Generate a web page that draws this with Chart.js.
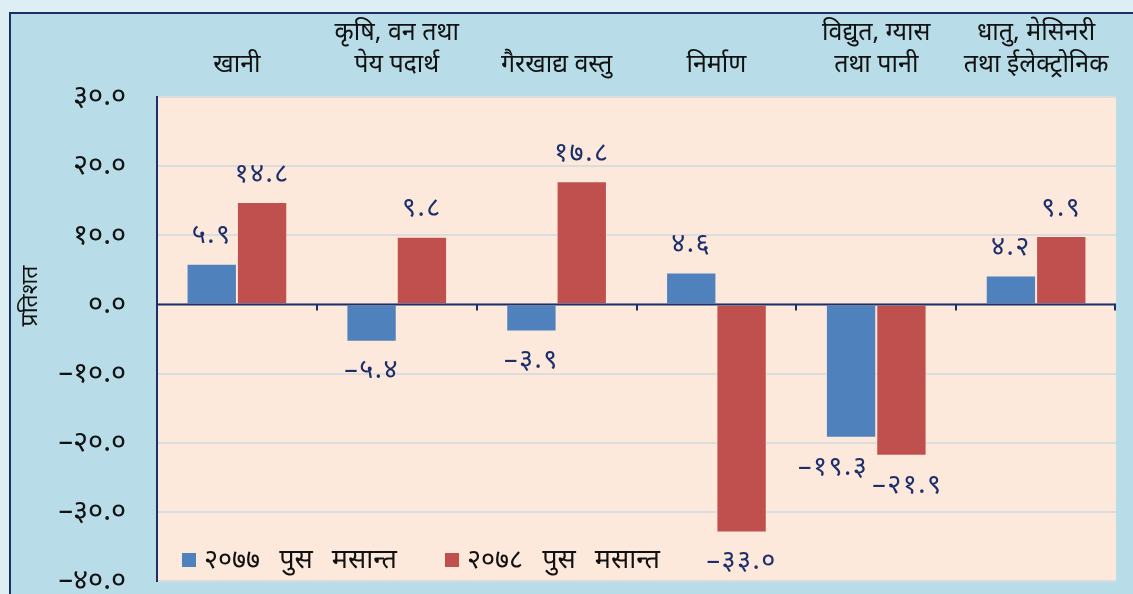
<!DOCTYPE html>
<html>
<head>
<meta charset="utf-8">
<script src="https://cdn.jsdelivr.net/npm/chart.js@4.4.1/dist/chart.umd.min.js"></script>
<style>
  html, body { margin: 0; padding: 0; background: #ddeef5; overflow: hidden; }
  #frame { position: absolute; left: 9px; top: 12px; width: 1200px; height: 700px;
           border: 2px solid #1c2f6b; background: #b8dde8; }
  #wrap { position: absolute; left: 0; top: 0; width: 1133px; height: 594px; }
</style>
</head>
<body>
<div id="frame"></div>
<div id="wrap"><canvas id="c" width="1133" height="594"></canvas></div>
<script>
const categories = [
  ['खानी'],
  ['कृषि, वन तथा', 'पेय पदार्थ'],
  ['गैरखाद्य वस्तु'],
  ['निर्माण'],
  ['विद्युत, ग्यास', 'तथा पानी'],
  ['धातु, मेसिनरी', 'तथा ईलेक्ट्रोनिक']
];
const seriesNames = ['२०७७ पुस मसान्त', '२०७८ पुस मसान्त'];
const series2077 = [5.9, -5.4, -3.9, 4.6, -19.3, 4.2];
const series2078 = [14.8, 9.8, 17.8, -33.0, -21.9, 9.9];
const labels2077 = ['५.९', '–५.४', '–३.९', '४.६', '–१९.३', '४.२'];
const labels2078 = ['१४.८', '९.८', '१७.८', '–३३.०', '–२१.९', '९.९'];
const yTickValues = [-40, -30, -20, -10, 0, 10, 20, 30];
const yTickLabels = ['–४०.०', '–३०.०', '–२०.०', '–१०.०', '०.०', '१०.०', '२०.०', '३०.०'];
const yTitle = 'प्रतिशत';

const FONT = "'Noto Sans', 'Noto Sans Devanagari', 'Lohit Devanagari', sans-serif";
const BLUE = '#4f81bd', RED = '#c0504d', NAVY = '#1c2f6b';
const valueLabels = [labels2077, labels2078];

const decor = {
  id: 'decor',
  beforeDraw(chart) {
    const {ctx, chartArea: a} = chart;
    ctx.save();
    ctx.fillStyle = '#fde9db';
    ctx.fillRect(a.left, a.top, a.right - a.left, a.bottom - a.top);
    ctx.restore();
  },
  afterDatasetsDraw(chart) {
    const {ctx, chartArea: a, scales: {x, y}} = chart;
    ctx.save();
    const y0 = y.getPixelForValue(0);
    ctx.strokeStyle = NAVY;
    ctx.lineWidth = 2;
    ctx.beginPath();
    ctx.moveTo(a.left, y0); ctx.lineTo(a.right, y0);
    const n = categories.length;
    const w = (a.right - a.left) / n;
    for (let i = 1; i <= n; i++) {
      const xx = Math.round(a.left + i * w) - (i === n ? 1 : 0);
      ctx.moveTo(xx, y0); ctx.lineTo(xx, y0 + 6);
    }
    ctx.stroke();
    // value labels (with simple collision nudging between paired labels)
    ctx.fillStyle = NAVY;
    ctx.font = '27px ' + FONT;
    try { ctx.letterSpacing = '1.5px'; } catch (e) {}
    ctx.textAlign = 'center';
    ctx.textBaseline = 'middle';
    const m0 = chart.getDatasetMeta(0), m1 = chart.getDatasetMeta(1);
    for (let i = 0; i < categories.length; i++) {
      const pos = [m0, m1].map((m, di) => {
        const v = chart.data.datasets[di].data[i];
        const bar = m.data[i];
        return { x: bar.x, y: v >= 0 ? bar.y - 28 : bar.y + 29, t: valueLabels[di][i] };
      });
      const w0 = ctx.measureText(pos[0].t).width, w1 = ctx.measureText(pos[1].t).width;
      const overlap = (pos[0].x + w0 / 2) - (pos[1].x - w1 / 2) + 4;
      if (overlap > 0 && Math.abs(pos[0].y - pos[1].y) < 30) {
        pos[0].x -= overlap * 0.75;
        pos[1].x += overlap * 0.25;
      }
      pos.forEach(p => ctx.fillText(p.t, p.x, p.y));
    }
    try { ctx.letterSpacing = '0px'; } catch (e) {}
    // legend
    ctx.font = '27px ' + FONT;
    try { ctx.wordSpacing = '12px'; } catch (e) {}
    ctx.textAlign = 'left';
    const ly = 560;
    const items = [[182, BLUE], [445, RED]];
    items.forEach(([lx, col], i) => {
      ctx.fillStyle = col;
      ctx.fillRect(lx, ly - 7, 14, 14);
      ctx.fillStyle = '#111';
      ctx.fillText(chart.data.datasets[i].label, lx + 22, ly);
    });
    try { ctx.wordSpacing = '0px'; } catch (e) {}
    // y title
    ctx.translate(30, 296);
    ctx.rotate(-Math.PI / 2);
    ctx.textAlign = 'center';
    ctx.font = '23px ' + FONT;
    ctx.fillStyle = '#111';
    ctx.fillText(yTitle, 0, 0);
    ctx.restore();
  }
};

new Chart(document.getElementById('c'), {
  type: 'bar',
  data: {
    labels: categories,
    datasets: [
      { label: seriesNames[0], data: series2077, backgroundColor: BLUE,
        borderColor: 'rgba(255,235,225,0.6)', borderWidth: 1 },
      { label: seriesNames[1], data: series2078, backgroundColor: RED,
        borderColor: 'rgba(255,235,225,0.6)', borderWidth: 1 }
    ]
  },
  options: {
    responsive: false,
    animation: false,
    devicePixelRatio: 1,
    layout: { padding: { left: 0, right: 17, top: 0, bottom: 13 } },
    datasets: { bar: { categoryPercentage: 0.63, barPercentage: 1.0 } },
    plugins: { legend: { display: false }, tooltip: { enabled: false } },
    scales: {
      x: {
        position: 'top',
        grid: { display: false, drawTicks: false },
        border: { display: false },
        ticks: { color: '#111', font: { family: FONT, size: 25, lineHeight: 1.28 }, padding: 16, maxRotation: 0, autoSkip: false },
        afterFit(s) { s.height = 97; }
      },
      y: {
        min: -40, max: 30,
        afterBuildTicks(s) { s.ticks = yTickValues.map(v => ({ value: v })); },
        grid: { color: '#dcdcdc', lineWidth: 2, drawTicks: true, tickLength: 31, tickColor: 'rgba(0,0,0,0)' },
        border: { display: true, color: NAVY, width: 2 },
        ticks: {
          color: '#111', padding: 0,
          font: { family: FONT, size: 29, lineHeight: 0.85 },
          callback(v) { const i = yTickValues.indexOf(v); return i >= 0 ? yTickLabels[i] : ''; }
        },
        afterFit(s) { s.width = 157; }
      }
    }
  },
  plugins: [decor]
});
</script>
</body>
</html>
